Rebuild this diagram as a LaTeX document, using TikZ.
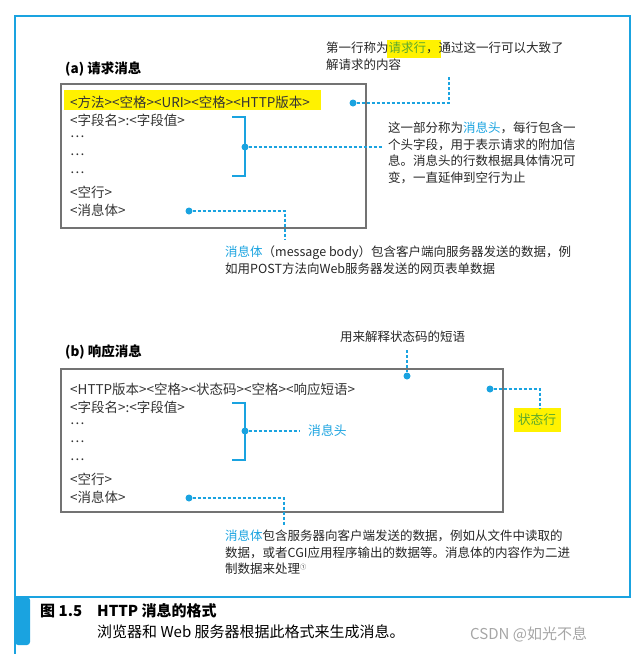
\documentclass[tikz,border=0pt]{standalone}
\usepackage{fontspec}
\setmainfont{Noto Sans CJK SC}
\definecolor{cblue}{HTML}{1AA3E0}
\definecolor{cyel}{HTML}{FFF200}
\definecolor{cgreen}{HTML}{5BA82E}
\begin{document}
\begin{tikzpicture}[x=1pt,y=-1pt,
 txt/.style={anchor=west,inner sep=0pt,font=\fontsize{13.5}{15}\selectfont,text=black!80},
 note/.style={anchor=north west,inner sep=0pt,font=\fontsize{12.5}{16.4}\selectfont,text=black!85,align=left},
 msgbox/.style={draw=black!55,line width=1.5pt},
 dline/.style={cblue,dash pattern=on 3pt off 2pt,line width=1.4pt},
 dotc/.style={circle,fill=cblue,inner sep=0pt,minimum size=7pt},
 brk/.style={cblue,line width=1.6pt}]
\useasboundingbox (0,0) rectangle (643,654);
% frame
\draw[cblue,line width=1.5pt] (15,654) -- (15,16) -- (630,16) -- (630,597) -- (15,597);
\fill[cblue,rounded corners=3pt] (15,597) rectangle (30,645);
\node[anchor=west,inner sep=0pt,font=\fontsize{15}{17}\selectfont\bfseries] (cap1) at (40,611) {图 1.5\quad HTTP 消息的格式};
\node[anchor=west,inner sep=0pt,font=\fontsize{15}{17}\selectfont] (cap2) at (97,632) {浏览器和 Web 服务器根据此格式来生成消息。};
\node[anchor=west,inner sep=0pt,font=\fontsize{15}{17}\selectfont,text=black!35] (wm) at (470,634) {CSDN @如光不息};
% (a)
\node[anchor=west,inner sep=0pt,font=\fontsize{13.5}{15}\selectfont\bfseries] (ta) at (65,69) {(a) 请求消息};
\draw[msgbox] (61,84) rectangle (366,228);
\fill[cyel] (64,90) rectangle (321,110);
\node[txt] (a1) at (70,102) {<方法><空格><URI><空格><HTTP版本>};
\node[txt] (a2) at (70,120) {<字段名>:<字段值>};
\node[txt] (a3) at (70,137) {…};
\node[txt] (a4) at (70,155) {…};
\node[txt] (a5) at (70,173) {…};
\node[txt] (a6) at (70,192) {<空行>};
\node[txt] (a7) at (70,210) {<消息体>};
\draw[brk] (232,117) -- (245,117) -- (245,176) -- (232,176);
\node[dotc] (da1) at (353,103) {};
\node[dotc] (da2) at (245,147) {};
\node[dotc] (da3) at (189,211) {};
\coordinate (ca1) at (449,76);
\coordinate (ca2) at (383,147);
\coordinate (ca3) at (285,240);
\draw[dline] (da1) -- (449,103) -- (ca1);
\draw[dline] (da2) -- (ca2);
\draw[dline] (da3) -- (285,211) -- (ca3);
\fill[cyel] (387,40) rectangle (441,58);
\node[note] (na1) at (326,42) {第一行称为\textcolor{cgreen}{请求行}，通过这一行可以大致了\\解请求的内容};
\node[note] (na2) at (388,122) {这一部分称为\textcolor{cblue}{消息头}，每行包含一\\个头字段，用于表示请求的附加信\\息。消息头的行数根据具体情况可\\变，一直延伸到空行为止};
\node[note] (na3) at (225,246) {\textcolor{cblue}{消息体}（message body）包含客户端向服务器发送的数据，例\\如用POST方法向Web服务器发送的网页表单数据};
% (b)
\node[anchor=west,inner sep=0pt,font=\fontsize{13.5}{15}\selectfont\bfseries] (tb) at (65,352) {(b) 响应消息};
\draw[msgbox] (61,369) rectangle (503,512);
\node[txt] (b1) at (70,389) {<HTTP版本><空格><状态码><空格><响应短语>};
\node[txt] (b2) at (70,407) {<字段名>:<字段值>};
\node[txt] (b3) at (70,424) {…};
\node[txt] (b4) at (70,442) {…};
\node[txt] (b5) at (70,460) {…};
\node[txt] (b6) at (70,479) {<空行>};
\node[txt] (b7) at (70,497) {<消息体>};
\draw[brk] (232,403) -- (245,403) -- (245,460) -- (232,460);
\node[dotc] (db1) at (407,376) {};
\node[dotc] (db2) at (490,389) {};
\node[dotc] (db3) at (245,431) {};
\node[dotc] (db4) at (189,498) {};
\node[note] (nb1) at (340,331) {用来解释状态码的短语};
\node[fill=cyel,inner sep=3pt,font=\fontsize{12.8}{14}\selectfont,text=cgreen,minimum width=47pt,minimum height=24pt] (zt) at (537,420) {状态行};
\node[anchor=west,inner sep=0pt,font=\fontsize{12.8}{14}\selectfont,text=cblue] (xt) at (308,431) {消息头};
\draw[dline] (407,350) -- (db1);
\draw[dline] (db2) -- (540,389) -- (zt.north -| 540,0);
\draw[dline] (db3) -- (300,431);
\coordinate (cb4) at (284,525);
\draw[dline] (db4) -- (284,498) -- (cb4);
\node[note] (nb3) at (225,530) {\textcolor{cblue}{消息体}包含服务器向客户端发送的数据，例如从文件中读取的\\数据，或者CGI应用程序输出的数据等。消息体的内容作为二进\\制数据来处理$^{\scriptscriptstyle①}$};
\end{tikzpicture}
\end{document}
